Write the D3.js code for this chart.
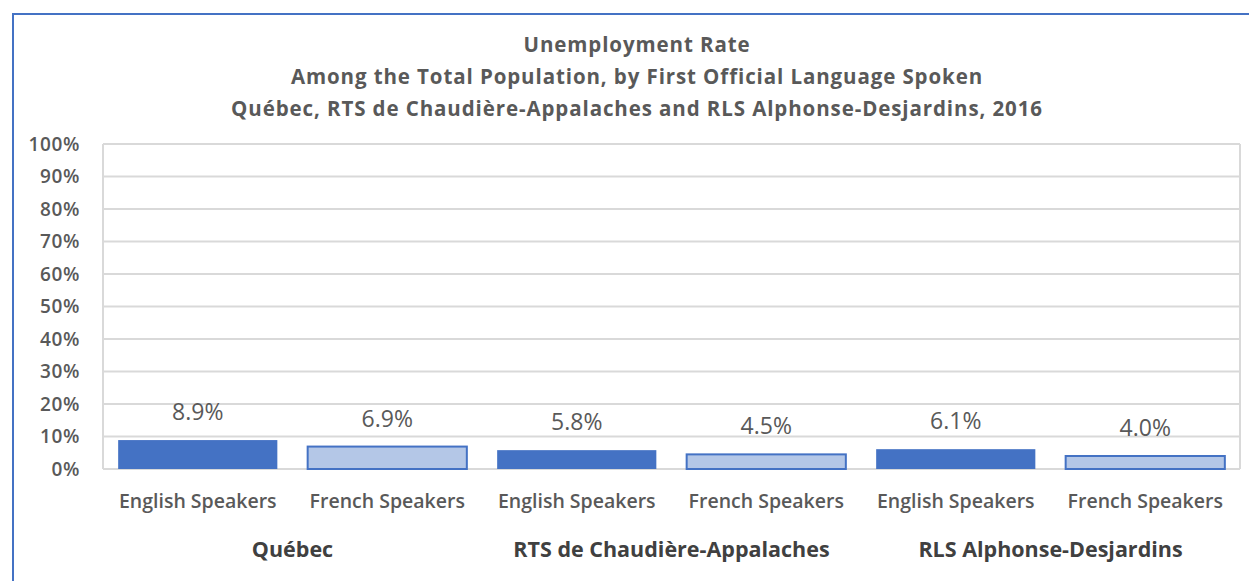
<!DOCTYPE html>
<html>
<head>
<meta charset="utf-8">
<script src="https://cdn.jsdelivr.net/npm/d3@7"></script>
<style>
  body { margin: 0; background: #fff; }
  svg { display: block; font-family: "Open Sans", sans-serif; }
</style>
</head>
<body>
<svg width="1249" height="581"></svg>
<script>
  const regions = ['Québec', 'RTS de Chaudière-Appalaches', 'RLS Alphonse-Desjardins'];
  const languages = ['English Speakers', 'French Speakers'];
  const rates = [8.9, 6.9, 5.8, 4.5, 6.1, 4.0]; // region by region, English then French
  const yTicks = [0, 10, 20, 30, 40, 50, 60, 70, 80, 90, 100];
  const titleLines = [
    'Unemployment Rate',
    'Among the Total Population, by First Official Language Spoken',
    'Québec, RTS de Chaudière-Appalaches and RLS Alphonse-Desjardins, 2016'
  ];

  const svg = d3.select('svg');
  const textColor = '#595959';
  const gridColor = '#d9d9d9';
  const blue = '#4472c4';
  const lightBlue = '#b4c7e7';

  // outer frame
  svg.append('rect')
    .attr('x', 13).attr('y', 14)
    .attr('width', 1260).attr('height', 600)
    .attr('fill', 'none')
    .attr('stroke', blue)
    .attr('stroke-width', 2);

  const plotLeft = 103, plotRight = 1240, plotTop = 144, plotBottom = 469;

  const bars = [];
  regions.forEach((r, i) => languages.forEach((l, j) => {
    bars.push({region: r, lang: l, key: r + '|' + l, value: rates[i * 2 + j]});
  }));

  const x = d3.scaleBand()
    .domain(bars.map(d => d.key))
    .range([plotLeft, plotRight])
    .paddingInner(0.16)
    .paddingOuter(0.08);

  const y = d3.scaleLinear().domain([0, 100]).range([plotBottom, plotTop]);

  // title
  svg.append('g')
    .selectAll('text')
    .data(titleLines)
    .join('text')
      .attr('x', 637)
      .attr('y', (d, i) => 52 + i * 32)
      .attr('text-anchor', 'middle')
      .attr('font-size', 20.5)
      .attr('font-weight', 700)
      .attr('letter-spacing', 0.9)
      .attr('fill', textColor)
      .text(d => d);

  // grid
  svg.append('g')
    .selectAll('line')
    .data(yTicks)
    .join('line')
      .attr('x1', plotLeft).attr('x2', plotRight)
      .attr('y1', d => y(d)).attr('y2', d => y(d))
      .attr('stroke', gridColor)
      .attr('stroke-width', 2);

  svg.append('line')
    .attr('x1', plotLeft).attr('x2', plotLeft)
    .attr('y1', plotTop).attr('y2', plotBottom)
    .attr('stroke', gridColor).attr('stroke-width', 2);
  svg.append('line')
    .attr('x1', plotRight).attr('x2', plotRight)
    .attr('y1', plotTop).attr('y2', plotBottom)
    .attr('stroke', gridColor).attr('stroke-width', 2);

  // y axis labels
  const yAxis = svg.append('g')
    .attr('transform', `translate(${plotLeft},0)`)
    .call(d3.axisLeft(y).tickValues(yTicks).tickFormat(d => d + '%').tickSize(0).tickPadding(23));
  yAxis.select('.domain').remove();
  yAxis.selectAll('text')
    .attr('font-family', '"Open Sans", sans-serif')
    .attr('font-size', 19)
    .attr('font-weight', 600)
    .attr('letter-spacing', 0.6)
    .attr('fill', textColor);

  // bars
  svg.append('g')
    .selectAll('rect')
    .data(bars)
    .join('rect')
      .attr('x', d => x(d.key))
      .attr('width', x.bandwidth())
      .attr('y', d => y(d.value))
      .attr('height', d => y(0) - y(d.value))
      .attr('fill', d => d.lang === languages[0] ? blue : lightBlue)
      .attr('stroke', d => d.lang === languages[0] ? 'none' : blue)
      .attr('stroke-width', 2);

  // value labels
  svg.append('g')
    .selectAll('text')
    .data(bars)
    .join('text')
      .attr('x', d => x(d.key) + x.bandwidth() / 2)
      .attr('y', d => y(d.value) - 20)
      .attr('text-anchor', 'middle')
      .attr('font-size', 23)
      .attr('fill', textColor)
      .text(d => d.value.toFixed(1) + '%');

  // category labels
  svg.append('g')
    .selectAll('text')
    .data(bars)
    .join('text')
      .attr('x', d => x(d.key) + x.bandwidth() / 2)
      .attr('y', 508)
      .attr('text-anchor', 'middle')
      .attr('font-size', 19.5)
      .attr('font-weight', 600)
      .attr('fill', textColor)
      .text(d => d.lang);

  // region labels
  const step = (plotRight - plotLeft) / regions.length;
  svg.append('g')
    .selectAll('text')
    .data(regions)
    .join('text')
      .attr('x', (d, i) => plotLeft + step * (i + 0.5))
      .attr('y', 557)
      .attr('text-anchor', 'middle')
      .attr('font-size', 21.5)
      .attr('font-weight', 700)
      .attr('fill', '#404040')
      .text(d => d);
</script>
</body>
</html>
